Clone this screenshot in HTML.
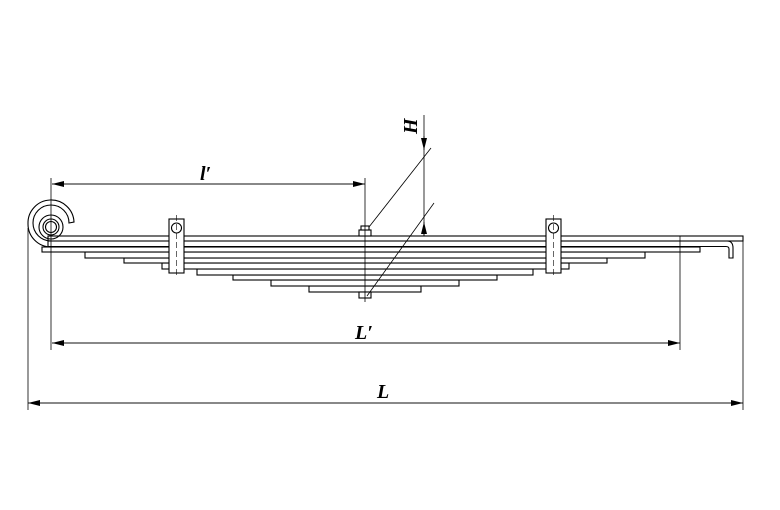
<!DOCTYPE html><html><head><style>body{margin:0;background:#fff}svg{display:block}</style></head><body>
<svg width="780" height="510" viewBox="0 0 780 510" xmlns="http://www.w3.org/2000/svg">
<defs><marker id="a" viewBox="0 0 12 6" refX="12" refY="3" markerWidth="12" markerHeight="6" orient="auto" markerUnits="userSpaceOnUse"><path d="M0,0L12,3L0,6z" fill="#000"/></marker></defs>
<g stroke="#000" fill="#fff" stroke-width="1.1">
<rect x="309" y="286" width="112" height="6"/>
<rect x="271" y="280" width="188" height="6"/>
<rect x="233" y="275" width="264" height="5"/>
<rect x="197" y="269" width="336" height="6"/>
<rect x="162" y="263" width="407" height="6"/>
<rect x="124" y="258" width="483" height="5"/>
<rect x="85" y="252" width="560" height="6"/>
<rect x="42" y="247" width="658" height="5"/>
<path d="M48,241 H727 Q733,241 733,248 V258 H729 V249 Q729,246.5 726,246.5 H48 Z"/>
<rect x="48" y="236" width="695" height="5"/>
<!-- eye -->
<path d="M51,247 A23,23 0 0 1 28,224 A23,23 0 0 1 74,222 L69,223 A18,18 0 1 0 51,241" fill="none"/>
<circle cx="51" cy="227" r="12" fill="none"/>
<circle cx="51" cy="227" r="8"/>
<circle cx="51" cy="227" r="5.5"/>
<!-- clamps -->
<rect x="169" y="219" width="15" height="54"/>
<circle cx="176.5" cy="228" r="5"/>
<rect x="546" y="219" width="15" height="54"/>
<circle cx="553.5" cy="228" r="5"/>
<!-- nuts -->
<rect x="359" y="230" width="12" height="6"/>
<rect x="361" y="226" width="8" height="4"/>
<rect x="359" y="292" width="12" height="6"/>
</g>
<g stroke="#000" fill="none" stroke-width="0.8">
<line x1="51" y1="178" x2="51" y2="350"/>
<line x1="28" y1="228" x2="28" y2="410"/>
<line x1="743" y1="240" x2="743" y2="410"/>
<line x1="680" y1="236" x2="680" y2="350"/>
<line x1="365" y1="178" x2="365" y2="302"/>
<line x1="424" y1="115" x2="424" y2="236"/>
<line x1="431" y1="148" x2="369" y2="227"/>
<line x1="434" y1="203" x2="367" y2="296"/>
<line x1="365" y1="184" x2="52" y2="184" marker-end="url(#a)"/>
<line x1="52" y1="184" x2="365" y2="184" marker-end="url(#a)"/>
<line x1="52" y1="343" x2="680" y2="343" marker-end="url(#a)"/>
<line x1="680" y1="343" x2="52" y2="343" marker-end="url(#a)"/>
<line x1="28" y1="403" x2="743" y2="403" marker-end="url(#a)"/>
<line x1="743" y1="403" x2="28" y2="403" marker-end="url(#a)"/>
<line x1="424" y1="136" x2="424" y2="150" marker-end="url(#a)"/>
<line x1="424" y1="236" x2="424" y2="222" marker-end="url(#a)"/>
</g>
<g stroke="#000" stroke-width="0.6" stroke-dasharray="6,3">
<line x1="176.5" y1="215" x2="176.5" y2="278"/>
<line x1="553.5" y1="215" x2="553.5" y2="278"/>
</g>
<g font-family="Liberation Serif,serif" font-style="italic" font-weight="bold" font-size="20">
<text x="200" y="180">l′</text>
<text x="355" y="339">L′</text>
<text x="377" y="398">L</text>
<text transform="translate(417,134) rotate(-90)">H</text>
</g>
</svg></body></html>
